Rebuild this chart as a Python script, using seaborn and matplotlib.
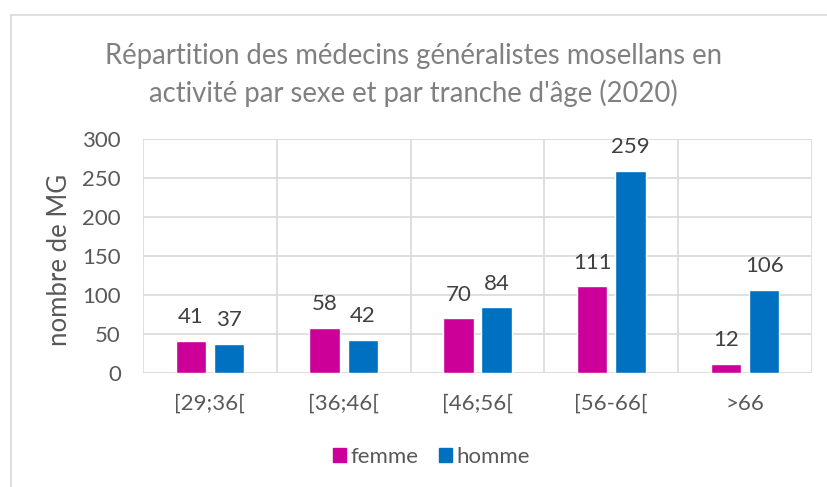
import pandas as pd
import matplotlib.pyplot as plt
import seaborn as sns
from matplotlib.lines import Line2D
from matplotlib.patches import Patch

# ==========================================
# DATA
# ==========================================

tranches = ["[29;36[", "[36;46[", "[46;56[", "[56-66[", ">66"]
femme = [41, 58, 70, 111, 12]
homme = [37, 42, 84, 259, 106]
sexes = ["femme", "homme"]
colors = {"femme": "#CC0099", "homme": "#0070C0"}

df = pd.DataFrame({
    "tranche": tranches * 2,
    "sexe": ["femme"] * len(tranches) + ["homme"] * len(tranches),
    "nombre": femme + homme,
})

# ==========================================
# PLOT
# ==========================================

sns.set_style("white")
plt.rcParams['font.family'] = ['Lato', 'DejaVu Sans']

fig = plt.figure(figsize=(8.27, 4.87), dpi=100)
ax = fig.add_axes([143 / 827, 1 - 373 / 487, (812 - 143) / 827, (373 - 139) / 487])

sns.barplot(data=df, x="tranche", y="nombre", hue="sexe", order=tranches,
            hue_order=sexes, palette=colors, width=0.57, gap=0.2,
            saturation=1, ax=ax, legend=False)

ax.set_ylim(0, 300)
ax.set_xlim(-0.5, len(tranches) - 0.5)
ax.set_yticks(range(0, 301, 50))
ax.set_xticks(range(len(tranches)))
ax.set_xticklabels(tranches)

grid_c = "#D9D9D9"
ax.grid(axis="y", color=grid_c, lw=1.2)
for xb in [i + 0.5 for i in range(-1, len(tranches))]:
    ax.axvline(xb, color=grid_c, lw=1.2, zorder=0)
ax.set_axisbelow(True)
for s in ax.spines.values():
    s.set_visible(False)

ax.tick_params(axis="both", length=0, labelsize=16, colors="#595959")
ax.tick_params(axis="x", pad=15)
ax.tick_params(axis="y", pad=16)
ax.set_xlabel("")
ax.set_ylabel("nombre de MG", fontsize=18.5, color="#595959")
ax.yaxis.set_label_coords(-0.106, 0.485)

for cont in ax.containers:
    ax.bar_label(cont, fontsize=16, color="#404040", padding=10)

fig.text(0.5, 1 - 56 / 487, "Répartition des médecins généralistes mosellans en",
         ha="center", va="center", fontsize=19.8, color="#808080")
fig.text(0.5, 1 - 93 / 487, "activité par sexe et par tranche d'âge (2020)",
         ha="center", va="center", fontsize=19.8, color="#808080")

handles = [Patch(color=colors[s], label=s) for s in sexes]
fig.legend(handles=handles, loc="center", bbox_to_anchor=(0.522, 1 - 457 / 487),
           ncol=2, frameon=False, fontsize=16, handlelength=0.6, handleheight=0.6,
           handletextpad=0.2, columnspacing=0.9, labelcolor="#595959")

# outer chart frame (left and top edges)
fig.add_artist(Line2D([11 / 827, 11 / 827], [0, 1 - 15 / 487], color="#D9D9D9",
                      lw=1.2, transform=fig.transFigure))
fig.add_artist(Line2D([11 / 827, 1], [1 - 15 / 487, 1 - 15 / 487], color="#D9D9D9",
                      lw=1.2, transform=fig.transFigure))

fig.savefig("out.png", dpi=100)
